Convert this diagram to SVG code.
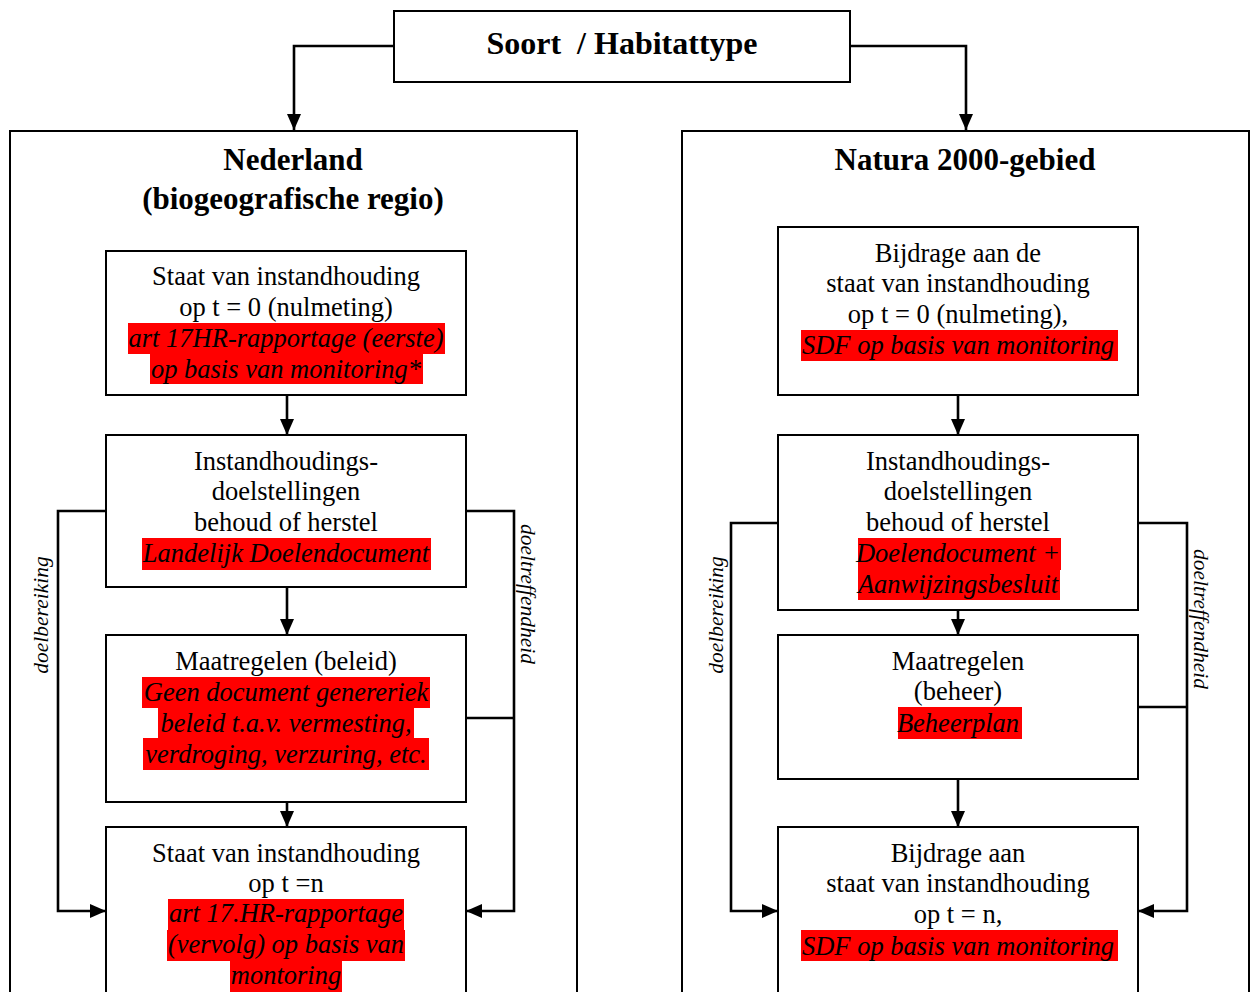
<svg xmlns="http://www.w3.org/2000/svg" width="1256" height="992" viewBox="0 0 1256 992">
<style>
.box{fill:#fff;stroke:#000;stroke-width:2}
.frame{fill:none;stroke:#000;stroke-width:2}
.ln{fill:none;stroke:#000;stroke-width:2.6}
.hl{fill:#ff0000}
text{font-family:"Liberation Serif","Times New Roman",serif;fill:#000}
.t{font-size:26.5px;text-anchor:middle}
.r{font-size:26.5px;text-anchor:middle;font-style:italic}
.h{font-size:31px;font-weight:bold;text-anchor:middle}
.top{font-size:32px;font-weight:bold;text-anchor:middle;white-space:pre}
.lab{font-size:21.5px;font-style:italic;text-anchor:middle}
</style>
<defs>
<marker id="arr" viewBox="0 0 10 10" refX="10" refY="5" markerWidth="16" markerHeight="14" markerUnits="userSpaceOnUse" orient="auto" preserveAspectRatio="none">
<path d="M0,0 L10,5 L0,10 z" fill="#000"/>
</marker>
</defs>
<rect width="1256" height="992" fill="#fff"/>

<g id="frame-nederland">
<rect class="frame" x="10" y="131" width="567" height="880"/>
<text class="h" x="293" y="170">Nederland</text>
<text class="h" x="293" y="209">(biogeografische regio)</text>
</g>
<g id="frame-natura">
<rect class="frame" x="682" y="131" width="567" height="880"/>
<text class="h" x="965" y="170">Natura 2000-gebied</text>
</g>

<g id="soort">
<rect class="box" x="394" y="11" width="456" height="71"/>
<text class="top" x="622" y="54" xml:space="preserve">Soort  / Habitattype</text>
</g>

<g id="nl-staat0">
<rect class="box" x="106" y="251" width="360" height="144"/>
<rect class="hl" x="128" y="323" width="317" height="31"/>
<rect class="hl" x="150" y="353" width="273" height="31"/>
<text class="t" x="286" y="285">Staat van instandhouding</text>
<text class="t" x="286" y="316">op t = 0 (nulmeting)</text>
<text class="r" x="286" y="347">art 17HR-rapportage (eerste)</text>
<text class="r" x="286" y="378">op basis van monitoring*</text>
</g>

<g id="nl-doelen">
<rect class="box" x="106" y="435" width="360" height="152"/>
<rect class="hl" x="142" y="538" width="289" height="32"/>
<text class="t" x="286" y="470">Instandhoudings-</text>
<text class="t" x="286" y="500">doelstellingen</text>
<text class="t" x="286" y="531">behoud of herstel</text>
<text class="r" x="286" y="562">Landelijk Doelendocument</text>
</g>

<g id="nl-maatregelen">
<rect class="box" x="106" y="635" width="360" height="167"/>
<rect class="hl" x="142" y="677" width="288" height="31"/>
<rect class="hl" x="158" y="707" width="256" height="31"/>
<rect class="hl" x="143" y="738" width="286" height="32"/>
<text class="t" x="286" y="670">Maatregelen (beleid)</text>
<text class="r" x="286" y="701">Geen document genereriek</text>
<text class="r" x="286" y="732">beleid t.a.v. vermesting,</text>
<text class="r" x="286" y="763">verdroging, verzuring, etc.</text>
</g>

<g id="nl-staatn">
<rect class="box" x="106" y="827" width="360" height="200"/>
<rect class="hl" x="168" y="899" width="236" height="31"/>
<rect class="hl" x="167" y="930" width="238" height="31"/>
<rect class="hl" x="230" y="961" width="112" height="31"/>
<text class="t" x="286" y="862">Staat van instandhouding</text>
<text class="t" x="286" y="892">op t =n</text>
<text class="r" x="286" y="922">art 17.HR-rapportage</text>
<text class="r" x="286" y="953">(vervolg) op basis van</text>
<text class="r" x="286" y="984">montoring</text>
</g>

<g id="n2k-bijdrage0">
<rect class="box" x="778" y="227" width="360" height="168"/>
<rect class="hl" x="801" y="330" width="317" height="31"/>
<text class="t" x="958" y="262">Bijdrage aan de</text>
<text class="t" x="958" y="292">staat van instandhouding</text>
<text class="t" x="958" y="323">op t = 0 (nulmeting),</text>
<text class="r" x="958" y="354">SDF op basis van monitoring</text>
</g>

<g id="n2k-doelen">
<rect class="box" x="778" y="435" width="360" height="175"/>
<rect class="hl" x="858" y="538" width="203" height="32"/>
<rect class="hl" x="858" y="569" width="202" height="31"/>
<text class="t" x="958" y="470">Instandhoudings-</text>
<text class="t" x="958" y="500">doelstellingen</text>
<text class="t" x="958" y="531">behoud of herstel</text>
<text class="r" x="958" y="562">Doelendocument +</text>
<text class="r" x="958" y="593">Aanwijzingsbesluit</text>
</g>

<g id="n2k-maatregelen">
<rect class="box" x="778" y="635" width="360" height="144"/>
<rect class="hl" x="898" y="707" width="124" height="32"/>
<text class="t" x="958" y="670">Maatregelen</text>
<text class="t" x="958" y="700">(beheer)</text>
<text class="r" x="958" y="732">Beheerplan</text>
</g>

<g id="n2k-bijdragen">
<rect class="box" x="778" y="827" width="360" height="200"/>
<rect class="hl" x="801" y="930" width="317" height="31"/>
<text class="t" x="958" y="862">Bijdrage aan</text>
<text class="t" x="958" y="892">staat van instandhouding</text>
<text class="t" x="958" y="923">op t = n,</text>
<text class="r" x="958" y="955">SDF op basis van monitoring</text>
</g>

<g id="connectors">
<path class="ln" d="M394,46 H294 V130" marker-end="url(#arr)"/>
<path class="ln" d="M850,46 H966 V130" marker-end="url(#arr)"/>
<path class="ln" d="M287,395 V435" marker-end="url(#arr)"/>
<path class="ln" d="M287,587 V635" marker-end="url(#arr)"/>
<path class="ln" d="M287,802 V827" marker-end="url(#arr)"/>
<path class="ln" d="M106,511 H58 V911 H106" marker-end="url(#arr)"/>
<path class="ln" d="M466,511 H514 V911 H466" marker-end="url(#arr)"/>
<path class="ln" d="M466,718 H514"/>
<path class="ln" d="M958,395 V435" marker-end="url(#arr)"/>
<path class="ln" d="M958,610 V635" marker-end="url(#arr)"/>
<path class="ln" d="M958,779 V827" marker-end="url(#arr)"/>
<path class="ln" d="M778,523 H731 V911 H778" marker-end="url(#arr)"/>
<path class="ln" d="M1138,523 H1187 V911 H1138" marker-end="url(#arr)"/>
<path class="ln" d="M1138,707 H1187"/>
<text class="lab" transform="translate(48,615) rotate(-90)">doelbereiking</text>
<text class="lab" transform="translate(521,594) rotate(90)">doeltreffendheid</text>
<text class="lab" transform="translate(723,615) rotate(-90)">doelbereiking</text>
<text class="lab" transform="translate(1194,619) rotate(90)">doeltreffendheid</text>
</g>
</svg>
